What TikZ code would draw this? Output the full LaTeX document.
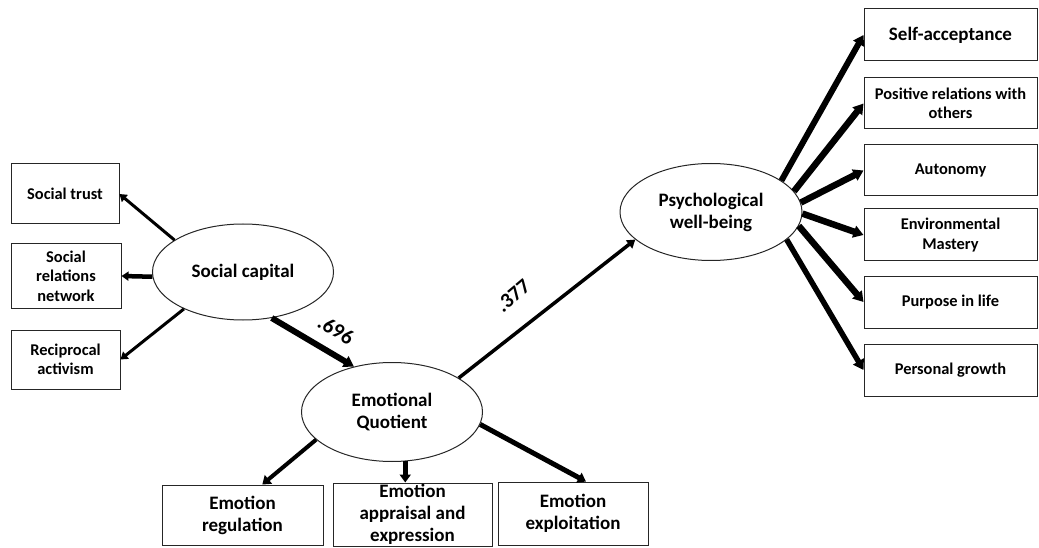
\documentclass[tikz,border=0pt]{standalone}
\usepackage{fontspec}
\setmainfont{Carlito}
\usetikzlibrary{arrows.meta,shapes.geometric}
\begin{document}
\begin{tikzpicture}[x=1pt,y=-1pt,
  smallfont/.style={font=\bfseries\fontsize{16.4}{19.5}\selectfont},
  bigfont/.style={font=\bfseries\fontsize{19}{22}\selectfont},
  box/.style={draw=black!85, line width=1pt, rectangle, inner sep=0pt, align=center, smallfont},
  bigbox/.style={box, bigfont},
  lat/.style={draw=black!85, line width=1pt, ellipse, inner sep=0pt, align=center, bigfont},
  lbl/.style={font=\bfseries\fontsize{21}{25}\selectfont, inner sep=0pt},
  arrA/.style={-{Triangle[length=7pt,width=9pt]}, line width=3pt},
  arrB/.style={-{Triangle[length=8pt,width=10pt]}, line width=3.5pt},
  arrD/.style={-{Triangle[length=8pt,width=11pt]}, line width=4.5pt},
  arrE/.style={-{Triangle[length=10pt,width=12pt]}, line width=6.5pt}
]
\useasboundingbox (0,0) rectangle (1039,548);

% left boxes
\node[box, minimum width=108pt, minimum height=60pt] (st) at (65,194) {Social trust};
\node[box, minimum width=110pt, minimum height=64pt] (srn) at (66,276) {Social\\relations\\network};
\node[box, minimum width=109pt, minimum height=59pt] (rec) at (65.5,359.5) {Reciprocal\\activism};

% latent variables
\node[lat, minimum width=181pt, minimum height=96pt] (sc) at (243,272) {Social capital};
\node[lat, minimum width=181pt, minimum height=99pt] (eq) at (392,412) {Emotional\\Quotient};
\node[lat, minimum width=182pt, minimum height=97pt] (pwb) at (711,212) {Psychological\\well-being};

% bottom boxes
\node[bigbox, minimum width=161pt, minimum height=60pt] (er) at (242.5,515) {Emotion\\regulation};
\node[bigbox, minimum width=159pt, minimum height=63pt] (eap) at (412.5,514.5) {Emotion\\appraisal and\\expression};
\node[bigbox, minimum width=150pt, minimum height=63pt] (eex) at (573,513.5) {Emotion\\exploitation};

% right boxes
\node[bigbox, minimum width=173pt, minimum height=52pt] (sa) at (950.5,35) {Self-acceptance};
\node[box, minimum width=173pt, minimum height=51pt] (pr) at (950.5,103.5) {Positive relations with\\others};
\node[box, minimum width=173pt, minimum height=51pt] (au) at (950.5,170.5) {Autonomy};
\node[box, minimum width=173pt, minimum height=52pt] (em) at (950.5,235) {Environmental\\Mastery};
\node[box, minimum width=173pt, minimum height=52pt] (pu) at (950.5,302) {Purpose in life};
\node[box, minimum width=173pt, minimum height=52pt] (pg) at (950.5,370) {Personal growth};

% path coefficients
\node[lbl, rotate=-30] (l696) at (336,330) {.696};
\node[lbl, rotate=40] (l377) at (513,296) {.377};

% social capital indicators
\draw[arrA] (sc.155) -- (st.east);
\draw[arrA, line width=4.5pt] (sc.183) -- (srn.east);
\draw[arrA] (sc.212) -- (rec.east);

% structural paths
\draw[arrE, line width=6pt] (sc.302) -- (eq.130);
\draw[arrB] (eq.27) -- (pwb.200);

% emotional quotient indicators
\draw[arrD, line width=4pt] (eq.200) -- (er.57);
\draw[arrD, line width=5pt] (eq.-75) -- (eap.north -| eq.-75);
\draw[arrD, line width=5pt] (eq.-8) -- (eex.68);

% psychological well-being indicators
\draw[arrE, line width=6pt] (pwb.24) -- (sa.west);
\draw[arrE] (pwb.14) -- (pr.west);
\draw[arrE] (pwb.6) -- (au.west);
\draw[arrE] (pwb.-1) -- (em.west);
\draw[arrE] (pwb.-9) -- (pu.west);
\draw[arrE, line width=5.5pt] (pwb.-20) -- (pg.west);
\end{tikzpicture}
\end{document}
